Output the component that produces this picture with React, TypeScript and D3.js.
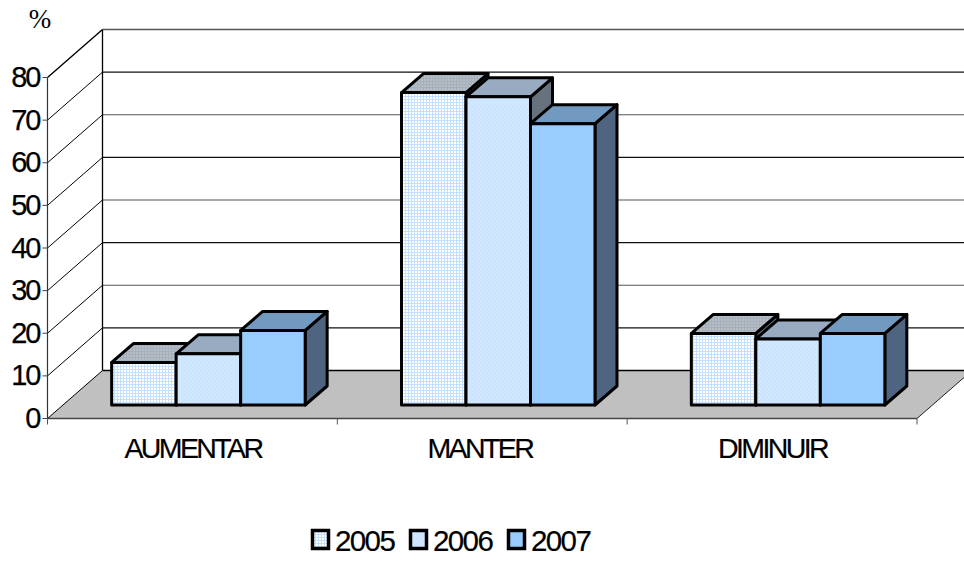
import React from "react";
import * as d3 from "d3";

const categories = ["AUMENTAR", "MANTER", "DIMINUIR"];
const years = ["2005", "2006", "2007"];
const values2005 = [10, 73.3, 16.8];
const values2006 = [12, 72.3, 15.5];
const values2007 = [17.5, 66, 16.8];
const series = [values2005, values2006, values2007];
const yTicks = [0, 10, 20, 30, 40, 50, 60, 70, 80];

const W = 964, H = 561;
const x0 = 47.5, x1 = 917, y0 = 418.5, y80 = 77.5;
const wallDx = 55, wallDy = -48;
const barOffX = 16, barOffY = -13.5, barDx = 22, barDy = -19;
const barW = 64.5;
const font = "'Liberation Sans', Arial, sans-serif";

const y = d3.scaleLinear().domain([0, 80]).range([y0, y80]);
const band = d3.scaleBand().domain(categories).range([x0, x1]);
const fronts = ["url(#p2005)", "url(#p2006)", "#99ccff"];
const tops = ["url(#t2005)", "#99abc0", "#7299bf"];
const sides = ["#66737f", "#66737f", "#4f6480"];
const pts = (p: number[][]) => p.map((d) => d.join(",")).join(" ");
const line = d3.line();

export default function App() {
  return (
    <svg width={W} height={H} style={{ position: "fixed", left: 0, top: 0, background: "#fff" }}>
      <defs>
        <pattern id="p2005" width="3" height="3" patternUnits="userSpaceOnUse">
          <rect width="3" height="3" fill="#fff" />
          <path d="M0 .5H3M.5 0V3" stroke="#c4e0ff" strokeWidth="1" />
        </pattern>
        <pattern id="p2006" width="4" height="4" patternUnits="userSpaceOnUse">
          <rect width="4" height="4" fill="#d2e8ff" />
          <path d="M-1 1L1 -1M0 4L4 0M3 5L5 3" stroke="#c6e1ff" strokeWidth="1" />
        </pattern>
        <pattern id="t2005" width="3" height="3" patternUnits="userSpaceOnUse">
          <rect width="3" height="3" fill="#b6bdc6" />
          <path d="M0 .5H3M.5 0V3" stroke="#a6b0bb" strokeWidth="1" />
        </pattern>
      </defs>

      {/* back wall */}
      {yTicks.slice(1).map((t, i) => {
        const top = t === 80;
        return (
          <g key={t}>
            <path d={line([[x0, y(t)], [x0 + wallDx, y(t) + wallDy]]) ?? ""} stroke="#000" strokeWidth={top ? 1.4 : 1} fill="none" />
            <path d={line([[x0 + wallDx, y(t) + wallDy], [W, y(t) + wallDy]]) ?? ""} stroke={i % 2 === 0 ? "#111" : "#555"} strokeWidth={top ? 1.4 : 1.2} fill="none" />
          </g>
        );
      })}
      <path d={line([[x0 + wallDx, y(80) + wallDy], [x0 + wallDx, y0 + wallDy]]) ?? ""} stroke="#000" strokeWidth={1.3} />

      {/* floor */}
      <polygon
        points={pts([[x0, y0], [x1, y0], [x1 + wallDx, y0 + wallDy], [x0 + wallDx, y0 + wallDy]])}
        fill="#c0c0c0"
      />
      <path d={line([[x0 + wallDx, y0 + wallDy], [W, y0 + wallDy]]) ?? ""} stroke="#000" strokeWidth={1.4} />
      <path d={line([[x0, y0], [x0 + wallDx, y0 + wallDy]]) ?? ""} stroke="#000" strokeWidth={1} />
      <path d={line([[x1, y0], [x1 + wallDx, y0 + wallDy]]) ?? ""} stroke="#222" strokeWidth={1} />

      {/* axes */}
      <path d={line([[x0, y(80)], [x0, y0]]) ?? ""} stroke="#333" strokeWidth={1.2} />
      <path d={line([[x0, y0], [x1, y0]]) ?? ""} stroke="#444" strokeWidth={1.3} />
      {yTicks.map((t) => (
        <g key={t}>
          <path d={line([[x0 - 5, y(t)], [x0, y(t)]]) ?? ""} stroke="#444" strokeWidth={1} />
          <text x={x0 - 8} y={y(t) + 9.5} textAnchor="end" fontFamily={font} fontSize={29} letterSpacing={-2} fill="#000" stroke="#000" strokeWidth={0.25}>
            {t}
          </text>
        </g>
      ))}
      {[0, 1, 2, 3].map((i) => {
        const tx = x0 + i * band.step();
        return <path key={i} d={line([[tx, y0], [tx, y0 + 6]]) ?? ""} stroke="#555" strokeWidth={1} />;
      })}
      {categories.map((c, i) => (
        <text key={c} x={(band(c) ?? 0) + band.bandwidth() / 2 + (i === 1 ? -2.5 : 0.5)} y={458} textAnchor="middle" fontFamily={font} fontSize={28.5} letterSpacing={-2.6} fill="#000" stroke="#000" strokeWidth={0.2}>
          {c}
        </text>
      ))}

      {/* bars */}
      {categories.map((c, ci) => {
        const cx = (band(c) ?? 0) + band.bandwidth() / 2 + barOffX;
        return series.map((vals, si) => {
          const bx = cx + (si - 1.5) * barW;
          const by = y0 + barOffY;
          const ty = by - (y0 - y(vals[ci]));
          const rx = bx + barW;
          return (
            <g key={c + si} stroke="#000" strokeWidth={3} strokeLinejoin="round">
              <polygon points={pts([[rx, ty], [rx + barDx, ty + barDy], [rx + barDx, by + barDy], [rx, by]])} fill={sides[si]} />
              <polygon points={pts([[bx, ty], [bx + barDx, ty + barDy], [rx + barDx, ty + barDy], [rx, ty]])} fill={tops[si]} />
              <rect x={bx} y={ty} width={barW} height={by - ty} fill={fronts[si]} />
            </g>
          );
        });
      })}

      {/* unit */}
      <text x={40} y={28} textAnchor="middle" fontFamily="'Liberation Serif', 'Times New Roman', serif" fontSize={27} fill="#000">%</text>

      {/* legend */}
      {years.map((yr, i) => {
        const lx = 312.5 + i * 98;
        return (
          <g key={yr}>
            <rect x={lx} y={530.5} width={16} height={18} fill={fronts[i]} stroke="#000" strokeWidth={3.5} />
            <text x={lx + 22.5} y={551} fontFamily={font} fontSize={29.5} letterSpacing={-1.6} fill="#000" stroke="#000" strokeWidth={0.2}>{yr}</text>
          </g>
        );
      })}
    </svg>
  );
}
